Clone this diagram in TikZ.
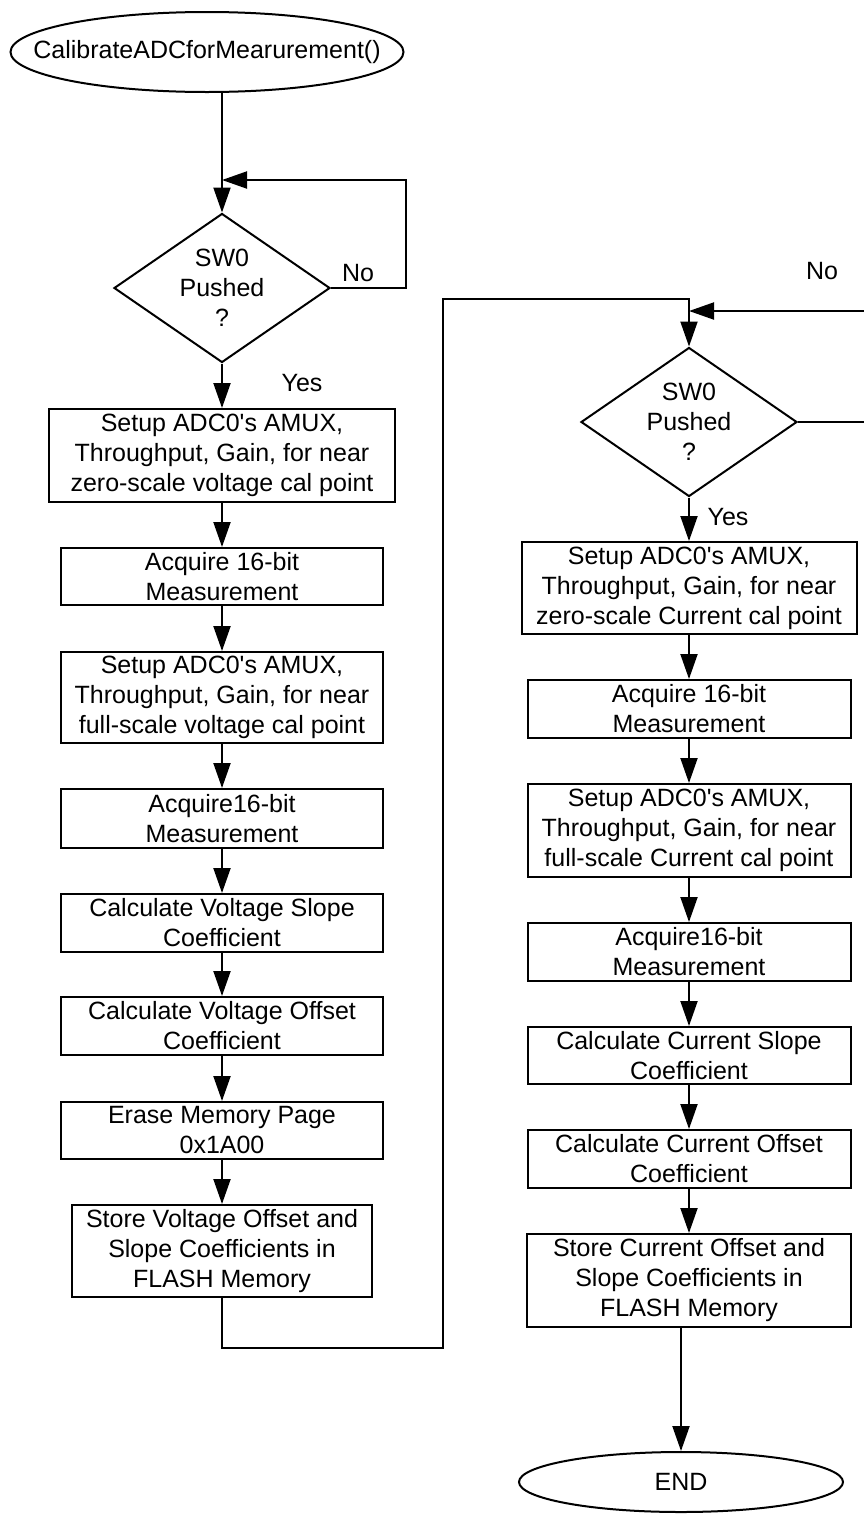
\documentclass[tikz,border=0pt]{standalone}
\usepackage{fontspec}
\setmainfont{Liberation Sans}
\usetikzlibrary{shapes.geometric}
\usetikzlibrary{arrows.meta}

\begin{document}
\begin{tikzpicture}[x=0.5pt, y=-0.5pt, line width=1pt,
	>={Triangle[length=12.5pt, width=8.5pt]},
	every node/.style={font=\fontsize{12.5}{15}\selectfont},
	stepbox/.style={draw, rectangle, align=center, inner sep=0pt},
	decision/.style={draw, diamond, shape aspect=1.45, inner sep=0pt, align=center, minimum width=108pt, minimum height=74.5pt},
	terminal/.style={draw, ellipse, inner sep=0pt}]

	\useasboundingbox (0,0) rectangle (863,1516);

	\def\xl{222}
	\def\xr{689}

	% start and first check
	\node [terminal, minimum width=196.5pt, minimum height=40pt, label=center:{CalibrateADCforMearurement()}] at (207,52) (start){};
	\node [decision] at (\xl,288) (dec1){SW0 \\ Pushed \\ ?};
	\draw [->] (start.south -| dec1.north) -- (dec1.north);

	% voltage calibration
	\node [stepbox, minimum width=173pt, minimum height=46.5pt] at (\xl,455.5) (setupV0){Setup ADC0\textquotesingle s AMUX, \\ Throughput, Gain, for near \\ zero-scale voltage cal point};
	\node [stepbox, minimum width=161pt, minimum height=28.5pt] at (\xl,576.5) (acqV0){Acquire 16-bit \\ Measurement};
	\node [stepbox, minimum width=161pt, minimum height=45.5pt] at (\xl,697.5) (setupV1){Setup ADC0\textquotesingle s AMUX, \\ Throughput, Gain, for near \\ full-scale voltage cal point};
	\node [stepbox, minimum width=161pt, minimum height=29.5pt] at (\xl,818.5) (acqV1){Acquire16-bit \\ Measurement};
	\node [stepbox, minimum width=161pt, minimum height=29pt] at (\xl,923) (slopeV){Calculate Voltage Slope \\ Coefficient};
	\node [stepbox, minimum width=161pt, minimum height=29pt] at (\xl,1026) (offsetV){Calculate Voltage Offset \\ Coefficient};
	\node [stepbox, minimum width=161pt, minimum height=28.5pt] at (\xl,1130.5) (erase){Erase Memory Page \\ 0x1A00};
	\node [stepbox, minimum width=150pt, minimum height=46pt] at (\xl,1251) (storeV){Store Voltage Offset and \\ Slope Coefficients in \\ FLASH Memory};

	% current calibration
	\node [decision] at (\xr,422) (dec2){SW0 \\ Pushed \\ ?};
	\node [stepbox, minimum width=167.5pt, minimum height=46pt] at (\xr,588) (setupI0){Setup ADC0\textquotesingle s AMUX, \\ Throughput, Gain, for near \\ zero-scale Current cal point};
	\node [stepbox, minimum width=161.5pt, minimum height=29pt] at (\xr,709) (acqI0){Acquire 16-bit \\ Measurement};
	\node [stepbox, minimum width=161.5pt, minimum height=46.5pt] at (\xr,830.5) (setupI1){Setup ADC0\textquotesingle s AMUX, \\ Throughput, Gain, for near \\ full-scale Current cal point};
	\node [stepbox, minimum width=161.5pt, minimum height=29pt] at (\xr,952) (acqI1){Acquire16-bit \\ Measurement};
	\node [stepbox, minimum width=161.5pt, minimum height=28.5pt] at (\xr,1055.5) (slopeI){Calculate Current Slope \\ Coefficient};
	\node [stepbox, minimum width=161.5pt, minimum height=29pt] at (\xr,1159) (offsetI){Calculate Current Offset \\ Coefficient};
	\node [stepbox, minimum width=162pt, minimum height=46.5pt] at (\xr,1280.5) (storeI){Store Current Offset and \\ Slope Coefficients in \\ FLASH Memory};
	\node [terminal, minimum width=162pt, minimum height=30pt] at (681,1482) (finish){END};

	\foreach \a/\b in {dec1/setupV0, setupV0/acqV0, acqV0/setupV1, setupV1/acqV1, acqV1/slopeV, slopeV/offsetV, offsetV/erase, erase/storeV, dec2/setupI0, setupI0/acqI0, acqI0/setupI1, setupI1/acqI1, acqI1/slopeI, slopeI/offsetI, offsetI/storeI}
	{
		\draw [->] (\a) -- (\b);
	}
	\draw [->] (storeI.south -| finish.north) -- (finish.north);

	% wait loops
	\coordinate (loopL) at (406,180);
	\draw [->] (dec1.east) -| (loopL) -- (dec1.north |- loopL);
	\coordinate (loopRlow) at (866,422);
	\coordinate (loopRhigh) at (866,311);
	\draw [->] (dec2.east) -- (loopRlow) -- (loopRhigh) -- (dec2.north |- loopRhigh);

	% link between the columns
	\coordinate (crossLow) at (443,1348);
	\coordinate (crossHigh) at (443,299);
	\draw [->] (storeV.south) |- (crossLow) -- (crossHigh) -| (dec2.north);

	% branch labels
	\node at (358,273) (noL){No};
	\node at (302,383) (yesL){Yes};
	\node at (822,271) (noR){No};
	\node at (728,517) (yesR){Yes};

\end{tikzpicture}
\end{document}
